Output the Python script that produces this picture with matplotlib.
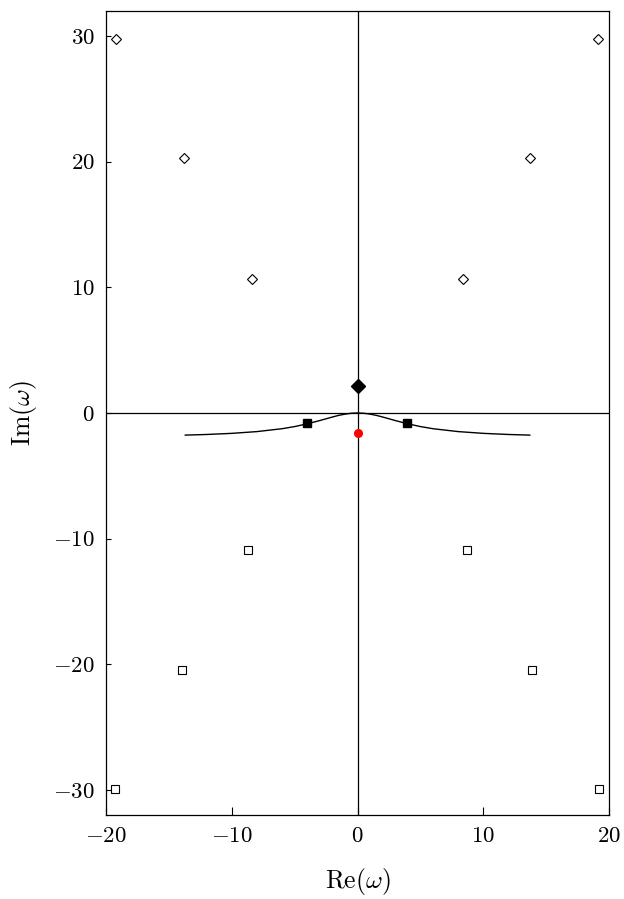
import numpy as np
import matplotlib
matplotlib.use('Agg')
from matplotlib import pyplot as plt

plt.rcParams['mathtext.fontset'] = 'cm'
plt.rcParams['font.family'] = 'serif'
plt.rcParams['font.serif'] = ['cmr10', 'DejaVu Serif']
plt.rcParams['axes.formatter.use_mathtext'] = True
plt.rcParams['font.size'] = 16.5

# upper half-plane poles (open diamonds)
upper_re = [-19.2, -13.8, -8.4, 8.4, 13.7, 19.1]
upper_im = [29.8, 20.3, 10.7, 10.7, 20.3, 29.8]
# lower half-plane poles (open squares)
lower_re = [-19.3, -14.0, -8.7, 8.7, 13.9, 19.2]
lower_im = [-29.9, -20.45, -10.9, -10.9, -20.45, -29.9]
# special points
top_re, top_im = [0.0], [2.15]
sq_re, sq_im = [-4.0, 3.95], [-0.8, -0.8]
red_re, red_im = [0.0], [-1.6]
# trajectory curve
curve_re = [-13.7, -12, -10, -8, -6, -5, -4, -3, -2, -1.5, -1, -0.5, 0,
            0.5, 1, 1.5, 2, 3, 4, 5, 6, 8, 10, 12, 13.7]
curve_im = [-1.76, -1.71, -1.62, -1.48, -1.25, -1.08, -0.86, -0.60, -0.32, -0.19, -0.09, -0.02, 0.0,
            -0.02, -0.09, -0.19, -0.32, -0.60, -0.86, -1.08, -1.25, -1.48, -1.62, -1.71, -1.76]

fig = plt.figure(figsize=(6.24, 8.99), dpi=100)
ax = fig.add_axes([0.170, 0.0934, 0.806, 0.8944])

ax.axhline(0, color='k', lw=0.9)
ax.axvline(0, color='k', lw=0.9)
ax.plot(curve_re, curve_im, color='k', lw=1.0)

ax.plot(upper_re, upper_im, 'D', ms=5.5, mfc='white', mec='k', mew=0.8, ls='none')
ax.plot(lower_re, lower_im, 's', ms=5.5, mfc='white', mec='k', mew=0.8, ls='none')
ax.plot(top_re, top_im, 'D', ms=7.5, color='k', ls='none')
ax.plot(sq_re, sq_im, 's', ms=5.5, color='k', ls='none')
ax.plot(red_re, red_im, 'o', ms=5.5, color='red', ls='none')

ax.set_xlim(-20, 20)
ax.set_ylim(-32, 32)
ax.set_xticks([-20, -10, 0, 10, 20])
ax.set_yticks([-30, -20, -10, 0, 10, 20, 30])
ax.tick_params(axis='x', direction='in', length=6, top=False, pad=8)
ax.tick_params(axis='y', direction='in', length=3.5, right=False, pad=8)
for s in ax.spines.values():
    s.set_linewidth(0.9)

ax.set_xlabel(r'$\mathrm{Re}(\omega)$', fontsize=18.5, labelpad=15)
ax.set_ylabel(r'$\mathrm{Im}(\omega)$', fontsize=18.5, labelpad=10)

fig.savefig('out.png', dpi=100)
